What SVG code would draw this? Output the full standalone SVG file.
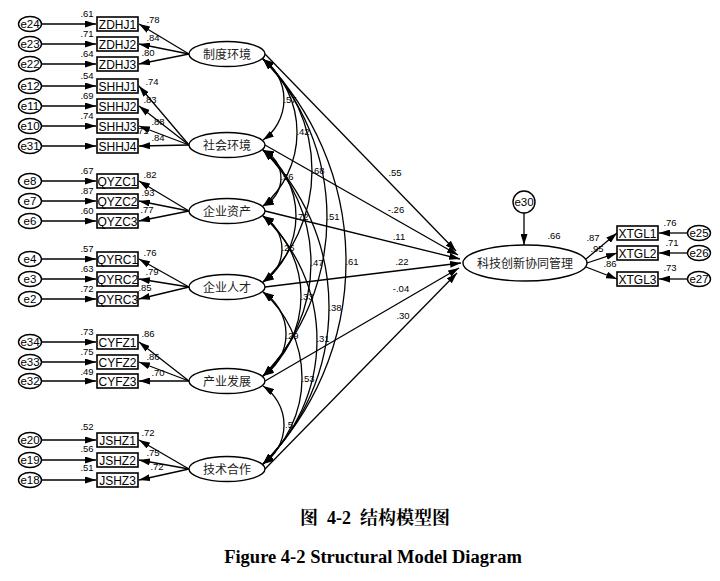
<svg xmlns="http://www.w3.org/2000/svg" width="720" height="581" viewBox="0 0 720 581">
<style>
.ln{stroke:#000;stroke-width:1.3;fill:none}
.ar{marker-end:url(#ah)}
.dbl{marker-start:url(#ah);marker-end:url(#ah)}
.box{fill:#fff;stroke:#000;stroke-width:1.6}
.el{fill:#fff;stroke:#000;stroke-width:1.4}
.t{font-family:"Liberation Sans",Arial,sans-serif;font-size:12px;text-anchor:middle;fill:#000}
.e{font-family:"Liberation Sans",Arial,sans-serif;font-size:11.5px;text-anchor:middle;fill:#000}
.c{font-family:"Noto Sans CJK SC","Liberation Sans",sans-serif;font-size:12px;text-anchor:middle;fill:#222}
.n{font-family:"Liberation Sans",Arial,sans-serif;font-size:9.5px;text-anchor:middle;fill:#000}
.cap{font-family:"Liberation Serif","Noto Serif CJK SC","Noto Sans CJK SC",serif;font-weight:bold;text-anchor:middle;fill:#000}
</style>
<defs>
<marker id="ah" viewBox="0 0 11 7" refX="11" refY="3.5" markerWidth="11" markerHeight="7" markerUnits="userSpaceOnUse" orient="auto-start-reverse"><path d="M0,0 L11,3.5 L0,7 z" fill="#000"/></marker>
</defs>
<rect width="720" height="581" fill="#fff"/>

<g id="connectors">
<g class="ln ar">
<line x1="42" y1="24" x2="96" y2="24"/>
<line x1="42" y1="44" x2="96" y2="44"/>
<line x1="42" y1="64" x2="96" y2="64"/>
<line x1="42" y1="86" x2="96" y2="86"/>
<line x1="42" y1="106" x2="96" y2="106"/>
<line x1="42" y1="126" x2="96" y2="126"/>
<line x1="42" y1="146" x2="96" y2="146"/>
<line x1="42" y1="181" x2="96" y2="181"/>
<line x1="42" y1="201" x2="96" y2="201"/>
<line x1="42" y1="221" x2="96" y2="221"/>
<line x1="42" y1="259" x2="96" y2="259"/>
<line x1="42" y1="279" x2="96" y2="279"/>
<line x1="42" y1="299" x2="96" y2="299"/>
<line x1="42" y1="342" x2="96" y2="342"/>
<line x1="42" y1="362" x2="96" y2="362"/>
<line x1="42" y1="381" x2="96" y2="381"/>
<line x1="42" y1="440" x2="96" y2="440"/>
<line x1="42" y1="460" x2="96" y2="460"/>
<line x1="42" y1="480" x2="96" y2="480"/>
<line x1="189" y1="54" x2="139" y2="24"/>
<line x1="189" y1="54" x2="139" y2="44"/>
<line x1="189" y1="54" x2="139" y2="64"/>
<line x1="189" y1="145" x2="139" y2="86"/>
<line x1="189" y1="145" x2="139" y2="106"/>
<line x1="189" y1="145" x2="139" y2="126"/>
<line x1="189" y1="145" x2="139" y2="146"/>
<line x1="189" y1="211" x2="139" y2="181"/>
<line x1="189" y1="211" x2="139" y2="201"/>
<line x1="189" y1="211" x2="139" y2="221"/>
<line x1="189" y1="287" x2="139" y2="259"/>
<line x1="189" y1="287" x2="139" y2="279"/>
<line x1="189" y1="287" x2="139" y2="299"/>
<line x1="189" y1="381" x2="139" y2="342"/>
<line x1="189" y1="381" x2="139" y2="362"/>
<line x1="189" y1="381" x2="139" y2="381"/>
<line x1="189" y1="469" x2="139" y2="440"/>
<line x1="189" y1="469" x2="139" y2="460"/>
<line x1="189" y1="469" x2="139" y2="480"/>
<line x1="265" y1="54" x2="456" y2="251"/>
<line x1="265" y1="145" x2="458" y2="255"/>
<line x1="265" y1="211" x2="460" y2="259"/>
<line x1="265" y1="287" x2="461" y2="263"/>
<line x1="265" y1="381" x2="459" y2="268"/>
<line x1="265" y1="469" x2="457" y2="273"/>
<line x1="524" y1="213" x2="524" y2="245"/>
<line x1="586" y1="259" x2="617" y2="233"/>
<line x1="587" y1="263" x2="617" y2="253"/>
<line x1="586" y1="267" x2="617" y2="279"/>
<line x1="687" y1="233" x2="659" y2="233"/>
<line x1="687" y1="253" x2="659" y2="253"/>
<line x1="687" y1="279" x2="659" y2="279"/>
</g>
<g class="ln dbl">
<path d="M263,59 A49.6,49.6 0 0 1 263,140"/>
<path d="M263,59 A96.4,96.4 0 0 1 263,206"/>
<path d="M263,59 A151.4,151.4 0 0 1 263,282"/>
<path d="M263,59 A228.3,228.3 0 0 1 263,376"/>
<path d="M263,59 A288.5,288.5 0 0 1 263,464"/>
<path d="M263,150 A30.8,30.8 0 0 1 263,206"/>
<path d="M263,150 A82.5,82.5 0 0 1 263,282"/>
<path d="M263,150 A157,157 0 0 1 263,376"/>
<path d="M263,150 A219.7,219.7 0 0 1 263,464"/>
<path d="M263,216 A38.2,38.2 0 0 1 263,282"/>
<path d="M263,216 A103.2,103.2 0 0 1 263,376"/>
<path d="M263,216 A169.4,169.4 0 0 1 263,464"/>
<path d="M263,292 A49.8,49.8 0 0 1 263,376"/>
<path d="M263,292 A114.3,114.3 0 0 1 263,464"/>
<path d="M263,386 A46.7,46.7 0 0 1 263,464"/>
</g>
</g>

<g id="labels" class="n">
<text x="87" y="17">.61</text>
<text x="87" y="37">.71</text>
<text x="87" y="57">.64</text>
<text x="87" y="79">.54</text>
<text x="87" y="99">.69</text>
<text x="87" y="119">.74</text>
<text x="142" y="134">.71</text>
<text x="87" y="174">.67</text>
<text x="87" y="194">.87</text>
<text x="87" y="214">.60</text>
<text x="87" y="252">.57</text>
<text x="87" y="272">.63</text>
<text x="87" y="292">.72</text>
<text x="87" y="335">.73</text>
<text x="87" y="355">.75</text>
<text x="87" y="375">.49</text>
<text x="87" y="430">.52</text>
<text x="87" y="452">.56</text>
<text x="87" y="471">.51</text>
<text x="153" y="23">.78</text>
<text x="153" y="41">.84</text>
<text x="148" y="56">.80</text>
<text x="152" y="85">.74</text>
<text x="150" y="103">.83</text>
<text x="158" y="125">.88</text>
<text x="158" y="141">.84</text>
<text x="150" y="178">.82</text>
<text x="148" y="196">.93</text>
<text x="147" y="213">.77</text>
<text x="150" y="256">.76</text>
<text x="152" y="275">.79</text>
<text x="145" y="291">.85</text>
<text x="148" y="337">.86</text>
<text x="153" y="360">.86</text>
<text x="158" y="376">.70</text>
<text x="148" y="436">.72</text>
<text x="153" y="456">.75</text>
<text x="157" y="470">.72</text>
<text x="290" y="103">.57</text>
<text x="303" y="135">.42</text>
<text x="318" y="174">.68</text>
<text x="333" y="220">.51</text>
<text x="352" y="265">.61</text>
<text x="287" y="180">.56</text>
<text x="302" y="220">.72</text>
<text x="317" y="266">.47</text>
<text x="335" y="311">.38</text>
<text x="288" y="251">.26</text>
<text x="307" y="300">.33</text>
<text x="323" y="342">.31</text>
<text x="292" y="339">.29</text>
<text x="308" y="382">.53</text>
<text x="289" y="428">.5</text>
<text x="395" y="176">.55</text>
<text x="396" y="213">-.26</text>
<text x="399" y="240">.11</text>
<text x="402" y="265">.22</text>
<text x="401" y="292">-.04</text>
<text x="403" y="319">.30</text>
<text x="554" y="239">.66</text>
<text x="593" y="241">.87</text>
<text x="597" y="252">.95</text>
<text x="610" y="267">.86</text>
<text x="670" y="226">.76</text>
<text x="672" y="246">.71</text>
<text x="670" y="271">.73</text>
</g>

<g id="errors-left">
<g id="e24"><ellipse class="el" cx="30" cy="24" rx="11.5" ry="7.5"/><text class="e" x="30" y="28">e24</text></g>
<g id="e23"><ellipse class="el" cx="30" cy="44" rx="11.5" ry="7.5"/><text class="e" x="30" y="48">e23</text></g>
<g id="e22"><ellipse class="el" cx="30" cy="64" rx="11.5" ry="7.5"/><text class="e" x="30" y="68">e22</text></g>
<g id="e12"><ellipse class="el" cx="30" cy="86" rx="11.5" ry="7.5"/><text class="e" x="30" y="90">e12</text></g>
<g id="e11"><ellipse class="el" cx="30" cy="106" rx="11.5" ry="7.5"/><text class="e" x="30" y="110">e11</text></g>
<g id="e10"><ellipse class="el" cx="30" cy="126" rx="11.5" ry="7.5"/><text class="e" x="30" y="130">e10</text></g>
<g id="e31"><ellipse class="el" cx="30" cy="146" rx="11.5" ry="7.5"/><text class="e" x="30" y="150">e31</text></g>
<g id="e8"><ellipse class="el" cx="30" cy="181" rx="11.5" ry="7.5"/><text class="e" x="30" y="185">e8</text></g>
<g id="e7"><ellipse class="el" cx="30" cy="201" rx="11.5" ry="7.5"/><text class="e" x="30" y="205">e7</text></g>
<g id="e6"><ellipse class="el" cx="30" cy="221" rx="11.5" ry="7.5"/><text class="e" x="30" y="225">e6</text></g>
<g id="e4"><ellipse class="el" cx="30" cy="259" rx="11.5" ry="7.5"/><text class="e" x="30" y="263">e4</text></g>
<g id="e3"><ellipse class="el" cx="30" cy="279" rx="11.5" ry="7.5"/><text class="e" x="30" y="283">e3</text></g>
<g id="e2"><ellipse class="el" cx="30" cy="299" rx="11.5" ry="7.5"/><text class="e" x="30" y="303">e2</text></g>
<g id="e34"><ellipse class="el" cx="30" cy="342" rx="11.5" ry="7.5"/><text class="e" x="30" y="346">e34</text></g>
<g id="e33"><ellipse class="el" cx="30" cy="362" rx="11.5" ry="7.5"/><text class="e" x="30" y="366">e33</text></g>
<g id="e32"><ellipse class="el" cx="30" cy="381" rx="11.5" ry="7.5"/><text class="e" x="30" y="385">e32</text></g>
<g id="e20"><ellipse class="el" cx="30" cy="440" rx="11.5" ry="7.5"/><text class="e" x="30" y="444">e20</text></g>
<g id="e19"><ellipse class="el" cx="30" cy="460" rx="11.5" ry="7.5"/><text class="e" x="30" y="464">e19</text></g>
<g id="e18"><ellipse class="el" cx="30" cy="480" rx="11.5" ry="7.5"/><text class="e" x="30" y="484">e18</text></g>
</g>

<g id="indicators">
<g id="ZDHJ1"><rect class="box" x="97" y="17" width="41" height="14"/><text class="t" x="117.5" y="28.5">ZDHJ1</text></g>
<g id="ZDHJ2"><rect class="box" x="97" y="37" width="41" height="14"/><text class="t" x="117.5" y="48.5">ZDHJ2</text></g>
<g id="ZDHJ3"><rect class="box" x="97" y="57" width="41" height="14"/><text class="t" x="117.5" y="68.5">ZDHJ3</text></g>
<g id="SHHJ1"><rect class="box" x="97" y="79" width="41" height="14"/><text class="t" x="117.5" y="90.5">SHHJ1</text></g>
<g id="SHHJ2"><rect class="box" x="97" y="99" width="41" height="14"/><text class="t" x="117.5" y="110.5">SHHJ2</text></g>
<g id="SHHJ3"><rect class="box" x="97" y="119" width="41" height="14"/><text class="t" x="117.5" y="130.5">SHHJ3</text></g>
<g id="SHHJ4"><rect class="box" x="97" y="139" width="41" height="14"/><text class="t" x="117.5" y="150.5">SHHJ4</text></g>
<g id="QYZC1"><rect class="box" x="97" y="174" width="41" height="14"/><text class="t" x="117.5" y="185.5">QYZC1</text></g>
<g id="QYZC2"><rect class="box" x="97" y="194" width="41" height="14"/><text class="t" x="117.5" y="205.5">QYZC2</text></g>
<g id="QYZC3"><rect class="box" x="97" y="214" width="41" height="14"/><text class="t" x="117.5" y="225.5">QYZC3</text></g>
<g id="QYRC1"><rect class="box" x="97" y="252" width="41" height="14"/><text class="t" x="117.5" y="263.5">QYRC1</text></g>
<g id="QYRC2"><rect class="box" x="97" y="272" width="41" height="14"/><text class="t" x="117.5" y="283.5">QYRC2</text></g>
<g id="QYRC3"><rect class="box" x="97" y="292" width="41" height="14"/><text class="t" x="117.5" y="303.5">QYRC3</text></g>
<g id="CYFZ1"><rect class="box" x="97" y="335" width="41" height="14"/><text class="t" x="117.5" y="346.5">CYFZ1</text></g>
<g id="CYFZ2"><rect class="box" x="97" y="355" width="41" height="14"/><text class="t" x="117.5" y="366.5">CYFZ2</text></g>
<g id="CYFZ3"><rect class="box" x="97" y="374" width="41" height="14"/><text class="t" x="117.5" y="385.5">CYFZ3</text></g>
<g id="JSHZ1"><rect class="box" x="97" y="433" width="41" height="14"/><text class="t" x="117.5" y="444.5">JSHZ1</text></g>
<g id="JSHZ2"><rect class="box" x="97" y="453" width="41" height="14"/><text class="t" x="117.5" y="464.5">JSHZ2</text></g>
<g id="JSHZ3"><rect class="box" x="97" y="473" width="41" height="14"/><text class="t" x="117.5" y="484.5">JSHZ3</text></g>
</g>

<g id="latents">
<g id="zhidu"><ellipse class="el" cx="227" cy="54" rx="38" ry="12.5"/><text class="c" x="227" y="58.5">制度环境</text></g>
<g id="shehui"><ellipse class="el" cx="227" cy="145" rx="38" ry="12.5"/><text class="c" x="227" y="149.5">社会环境</text></g>
<g id="zichan"><ellipse class="el" cx="227" cy="211" rx="38" ry="12.5"/><text class="c" x="227" y="215.5">企业资产</text></g>
<g id="rencai"><ellipse class="el" cx="227" cy="287" rx="38" ry="12.5"/><text class="c" x="227" y="291.5">企业人才</text></g>
<g id="fazhan"><ellipse class="el" cx="227" cy="381" rx="38" ry="12.5"/><text class="c" x="227" y="385.5">产业发展</text></g>
<g id="hezuo"><ellipse class="el" cx="227" cy="469" rx="38" ry="12.5"/><text class="c" x="227" y="473.5">技术合作</text></g>
<g id="target"><ellipse class="el" cx="525" cy="263" rx="62" ry="18"/><text class="c" x="525" y="267.5">科技创新协同管理</text></g>
</g>

<g id="outcome">
<g id="e30"><circle class="el" cx="524" cy="202" r="11"/><text class="e" x="524" y="206">e30</text></g>
<g id="XTGL1"><rect class="box" x="617" y="226" width="41" height="14"/><text class="t" x="637.5" y="237.5">XTGL1</text></g>
<g id="XTGL2"><rect class="box" x="617" y="246" width="41" height="14"/><text class="t" x="637.5" y="257.5">XTGL2</text></g>
<g id="XTGL3"><rect class="box" x="617" y="272" width="41" height="14"/><text class="t" x="637.5" y="283.5">XTGL3</text></g>
<g id="e25"><ellipse class="el" cx="699" cy="233" rx="11.5" ry="7.5"/><text class="e" x="699" y="237">e25</text></g>
<g id="e26"><ellipse class="el" cx="699" cy="253" rx="11.5" ry="7.5"/><text class="e" x="699" y="257">e26</text></g>
<g id="e27"><ellipse class="el" cx="699" cy="279" rx="11.5" ry="7.5"/><text class="e" x="699" y="283">e27</text></g>
</g>

<g id="caption">
<text class="cap" x="375" y="524" font-size="18" xml:space="preserve">图  4-2  结构模型图</text>
<text class="cap" x="373" y="563" font-size="18.5">Figure 4-2 Structural Model Diagram</text>
</g>
</svg>
